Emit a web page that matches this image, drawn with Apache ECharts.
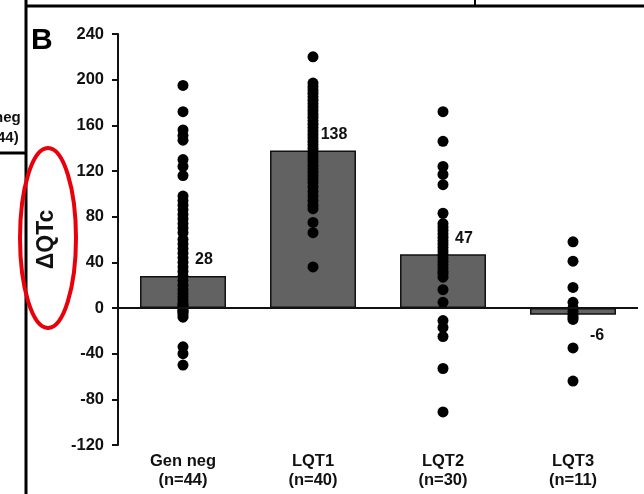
<!DOCTYPE html>
<html>
<head>
<meta charset="utf-8">
<script src="https://cdn.jsdelivr.net/npm/echarts@6/dist/echarts.min.js"></script>
<style>html,body{margin:0;padding:0;background:#fff;}#c{width:644px;height:494px;}</style>
</head>
<body>
<div id="c"></div>
<script>
const categories = ['Gen neg\n(n=44)', 'LQT1\n(n=40)', 'LQT2\n(n=30)', 'LQT3\n(n=11)'];
const meanValues = [28, 138, 47, -6];
const genNeg = [195, 172, 156, 151, 147, 130, 124, 116,
  98, 94, 90, 86, 82, 78, 74, 70, 66, 60, 56, 52, 48, 44, 40, 36, 32, 28, 24, 20, 16, 13, 10, 7, 4, 1, -2, -4, -6, -8, 3, 0, -3,
  -34, -40, -50];
const lqt1 = [220, 197, 194, 191, 188, 185, 182, 179, 176, 173, 170, 167, 164, 161, 158, 155, 152, 149, 146, 143, 140, 137, 134,
  131, 128, 125, 122, 119, 116, 113, 110, 106, 102, 98, 94, 90, 75, 66, 36, 87];
const lqt2 = [172, 146, 124, 117, 108, 83, 74, 71, 68, 65, 62, 59, 56, 53, 50, 47, 44, 41, 38, 35, 32, 30, 27, 16, 5, -11, -17, -25, -53, -91];
const lqt3 = [58, 41, 18, 5, 0, -3, -6, -8, -10, -35, -64];
const yTicks = [-120, -80, -40, 0, 40, 80, 120, 160, 200, 240];

const groups = [genNeg, lqt1, lqt2, lqt3];
const scatterData = [];
groups.forEach((g, i) => g.forEach(v => scatterData.push([i, v])));

const chart = echarts.init(document.getElementById('c'));
const font = '"Liberation Sans", Arial, sans-serif';
chart.setOption({
  animation: false,
  backgroundColor: '#fff',
  grid: { left: 118, right: 6, top: 34, bottom: 49 },
  xAxis: {
    type: 'category',
    data: categories,
    position: 'bottom',
    axisLine: { show: false, onZero: false },
    axisTick: { show: false },
    axisLabel: { color: '#111', fontFamily: font, fontWeight: 'bold', fontSize: 16.5, lineHeight: 19, margin: 7 }
  },
  yAxis: {
    type: 'value',
    min: yTicks[0], max: yTicks[yTicks.length - 1], interval: 40,
    name: 'ΔQTc', nameLocation: 'middle', nameGap: 60, nameRotate: 90,
    nameTextStyle: { color: '#111', fontFamily: font, fontWeight: 'bold', fontSize: 23 },
    axisLine: { show: true, lineStyle: { color: '#111', width: 2 } },
    axisTick: { show: true, length: 6, lineStyle: { color: '#111', width: 2 } },
    splitLine: { show: false },
    axisLabel: { color: '#111', fontFamily: font, fontWeight: 'bold', fontSize: 16.5, margin: 14 }
  },
  series: [
    {
      type: 'bar',
      data: meanValues.map((v, i) => i === 3 ? { value: v, label: { position: 'bottom', offset: [24, 8] } } : v),
      barWidth: 86,
      itemStyle: { color: '#626262', borderColor: '#111', borderWidth: 1.5 },
      label: { show: true, position: 'top', offset: [21, -3], color: '#111', fontFamily: font, fontWeight: 'bold', fontSize: 16 },
      markLine: {
        symbol: 'none', silent: true, label: { show: false },
        lineStyle: { color: '#111', width: 2, type: 'solid' },
        data: [{ yAxis: 0 }]
      },
      z: 2
    },
    {
      type: 'scatter',
      data: scatterData,
      symbol: 'circle',
      symbolSize: 11,
      itemStyle: { color: '#000', opacity: 1 },
      z: 3
    }
  ],
  graphic: [
    { type: 'line', shape: { x1: 26, y1: 0, x2: 26, y2: 494 }, style: { stroke: '#000', lineWidth: 3 } },
    { type: 'line', shape: { x1: 26, y1: 6, x2: 644, y2: 6 }, style: { stroke: '#000', lineWidth: 3 } },
    { type: 'line', shape: { x1: 475, y1: 0, x2: 475, y2: 6 }, style: { stroke: '#000', lineWidth: 2 } },
    { type: 'line', shape: { x1: 0, y1: 153, x2: 26, y2: 153 }, style: { stroke: '#000', lineWidth: 3 } },
    { type: 'text', left: 31, top: 26, style: { text: 'B', font: 'bold 30px ' + font, fill: '#000' } },
    { type: 'text', left: -6, top: 110, style: { text: 'neg', font: 'bold 15px ' + font, fill: '#111' } },
    { type: 'text', left: -3, top: 130, style: { text: '44)', font: 'bold 15px ' + font, fill: '#111' } },
    { type: 'ellipse', shape: { cx: 48, cy: 238, rx: 28, ry: 90 }, style: { stroke: '#e8000b', lineWidth: 4, fill: null }, z: 10 }
  ]
});
</script>
</body>
</html>
